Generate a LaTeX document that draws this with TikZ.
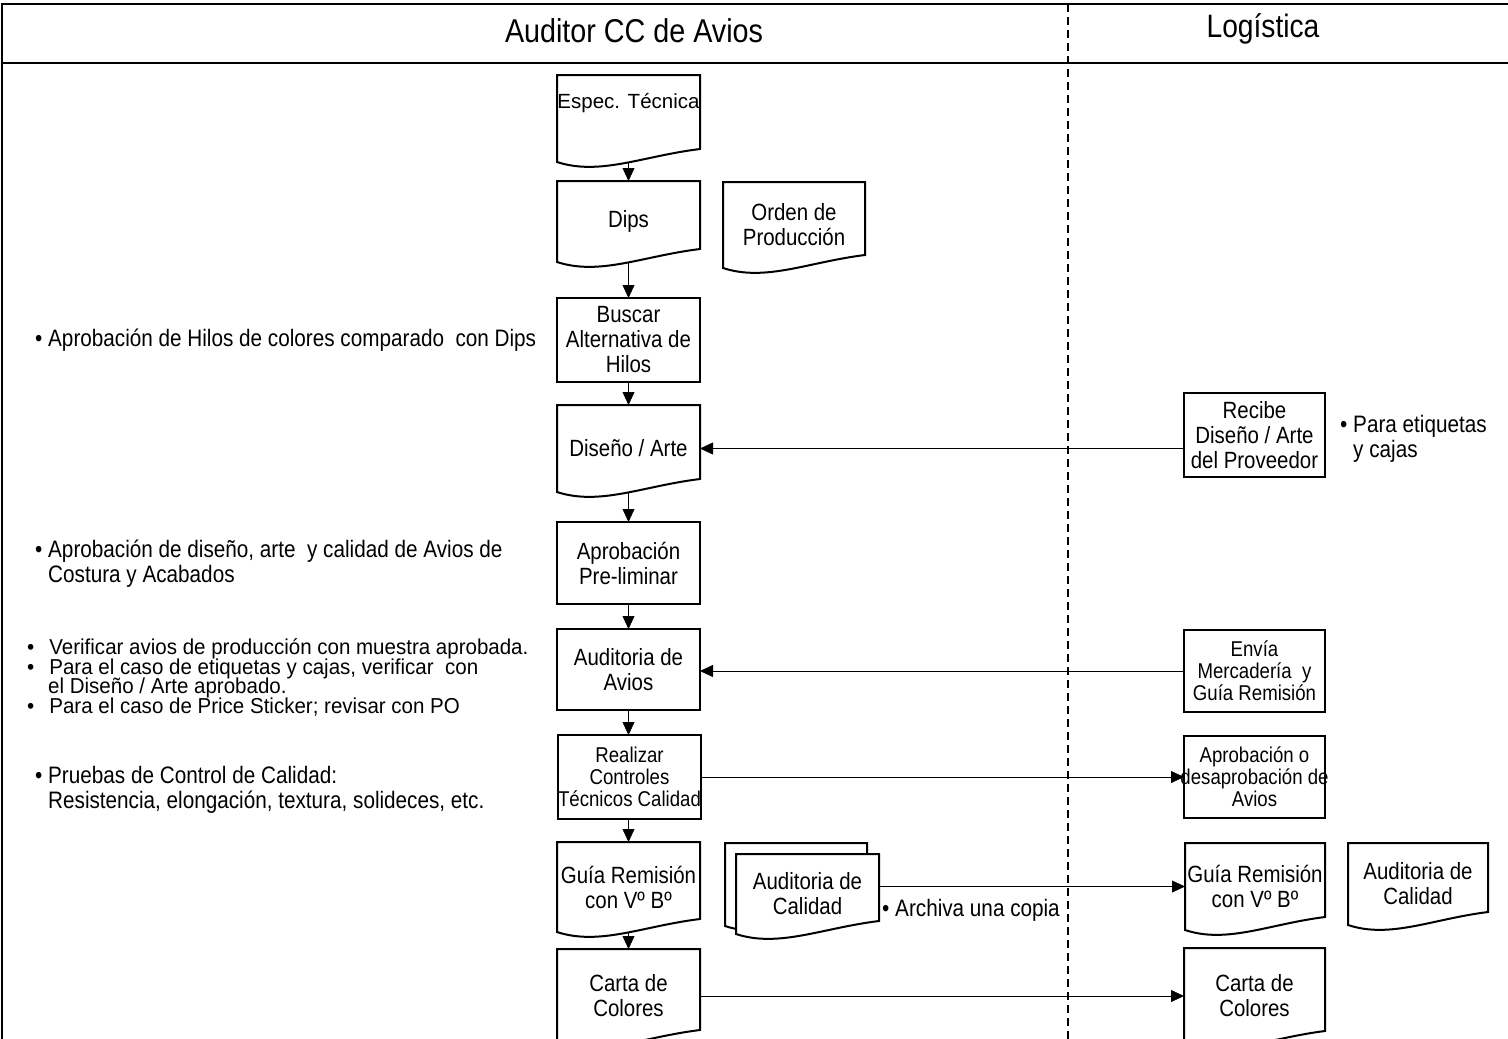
\documentclass[tikz,border=0pt]{standalone}
\usepackage{fontspec}
\setmainfont{Liberation Sans}[FakeStretch=0.87]
\newfontfamily\plainsans{Liberation Sans}
\newfontfamily\semisans{Liberation Sans}[FakeStretch=0.95]
\usetikzlibrary{arrows.meta,calc}

\pgfdeclarelayer{bg}
\pgfsetlayers{bg,main}

% outline of a document symbol around a named node: flat top, wavy bottom
\newcommand\docoutline[1]{%
  \draw[line width=2pt, fill=white] (#1.south west) -- (#1.north west) -- (#1.north east)
    -- ($(#1.south east)+(0,-13)$)
    .. controls ($(#1.south west)!0.6!(#1.south east)+(0,-6)$)
            and ($(#1.south west)!0.3!(#1.south east)+(0,14)$) .. (#1.south west) -- cycle;}

\begin{document}
\begin{tikzpicture}[x=1pt,y=-1pt,line width=2pt,line join=miter,
  txt/.style={font=\fontsize{23.5}{25}\selectfont, align=center, inner sep=0pt, outer sep=0pt},
  small/.style={font=\fontsize{21.4}{22}\selectfont},
  procbox/.style={txt, draw, minimum width=143pt, anchor=north},
  docbox/.style={txt, minimum width=143pt, anchor=north},
  flow/.style={-{Triangle[length=13pt,width=12pt]}},
  note/.style={font=\fontsize{23.8}{25}\selectfont, align=left, anchor=west, inner sep=0pt},
  lane/.style={font=\fontsize{33}{36}\selectfont, inner sep=0pt},
]
\useasboundingbox (0,0) rectangle (1508,1039);

% swimlane frame
\draw[line width=2.2pt] (2,1039) -- (2,4) -- (1508,4);
\draw[line width=2.2pt] (2,63) -- (1508,63);
\draw[line width=1.3pt, dash pattern=on 8pt off 5pt] (1068,4) -- (1068,1039);
\node[lane] (laneA) at (634,31) {Auditor CC de Avios};
\node[lane, font=\fontsize{32.4}{36}\selectfont] (laneB) at (1263,29) {Logística};

% main column
\node[docbox, font=\plainsans\fontsize{20.5}{25}\selectfont, minimum height=87pt, text height=15pt, text depth=36pt] (espec) at (628.5,75) {Espec. Técnica};
\node[docbox, minimum height=81pt] (dips) at (628.5,181) {Dips};
\node[docbox, minimum width=142pt, minimum height=86pt] (orden) at (794,182) {Orden de\\Producción};
\node[procbox, minimum height=84pt] (buscar) at (628.5,298) {Buscar\\Alternativa de\\Hilos};
\node[docbox, minimum height=87pt] (diseno) at (628.5,405) {Diseño / Arte};
\node[procbox, minimum height=82pt] (aprob) at (628.5,522) {Aprobación\\Pre-liminar};
\node[procbox, minimum height=81pt] (audit) at (628.5,629) {Auditoria de\\Avios};
\node[procbox, small, minimum height=84pt] (realizar) at (629.5,735) {Realizar\\Controles\\Técnicos Calidad};
\node[docbox, minimum height=90pt] (guia) at (628.5,842) {Guía Remisión\\con Vº Bº};
\node[docbox, minimum height=94pt] (carta) at (628.5,949) {Carta de\\Colores};

% stacked quality audit documents
\node[docbox, minimum width=142pt, minimum height=83pt] (auditqback) at (796,843) {};
\node[docbox, minimum height=80pt] (auditq) at (807.5,854) {Auditoria de\\Calidad};

% logistics column
\node[procbox, minimum width=141pt, minimum height=84pt] (recibe) at (1254.5,393) {Recibe\\Diseño / Arte\\del Proveedor};
\node[procbox, small, minimum width=141pt, minimum height=82pt] (envia) at (1254.5,630) {Envía\\Mercadería\ \ y\\Guía Remisión};
\node[procbox, small, minimum width=141pt, minimum height=82pt] (aprobo) at (1254.5,736) {Aprobación o\\\makebox[141pt]{desaprobación de}\\Avios};
\node[docbox, minimum width=140pt, minimum height=87pt] (guiaR) at (1255,843) {Guía Remisión\\con Vº Bº};
\node[docbox, minimum width=140pt, minimum height=82pt] (auditR) at (1418,843) {Auditoria de\\Calidad};
\node[docbox, minimum width=141pt, minimum height=96pt] (cartaR) at (1254.5,948) {Carta de\\Colores};

% document outlines drawn beneath the labels
\begin{pgfonlayer}{bg}
  \foreach \d in {espec,dips,orden,diseno,guia,carta,auditqback,auditq,guiaR,auditR,cartaR}{\docoutline{\d}}
\end{pgfonlayer}

% notes
\node[note] (n1) at (35,340) {• Aprobación de Hilos de colores comparado\ \ con Dips};
\node[note] (n2) at (35,563.5) {• Aprobación de diseño, arte\ \ y calidad de Avios de\\\phantom{• }Costura y Acabados};
\node[note, font={\semisans\fontsize{21.6}{19.8}\selectfont\lineskiplimit=-30pt}] (n3) at (27,677.5) {•\hspace{15pt}Verificar avios de producción con muestra aprobada.\\•\hspace{15pt}Para el caso de etiquetas y cajas, verificar\ \ con\\\hspace{21pt}el Diseño / Arte aprobado.\\•\hspace{15pt}Para el caso de Price Sticker; revisar con PO};
\node[note] (n4) at (35,789.5) {• Pruebas de Control de Calidad:\\\phantom{• }Resistencia, elongación, textura, solideces, etc.};
\node[note] (n5) at (1340,438.5) {• Para etiquetas\\\phantom{• }y cajas};
\node[note] (n6) at (882,910) {• Archiva una copia};

% flow
\draw[flow] (espec.south) -- (dips.north);
\draw[flow] (dips.south) -- (buscar.north);
\draw[flow] (buscar.south) -- (diseno.north);
\draw[flow] (diseno.south) -- (aprob.north);
\draw[flow] (aprob.south) -- (audit.north);
\draw[flow] (audit.south) -- (realizar.north -| audit.south);
\draw[flow] (realizar.south -| guia.north) -- (guia.north);
\draw[flow] (guia.south) -- (carta.north);
\draw[flow] (recibe.west |- diseno.east) -- (diseno.east);
\draw[flow] (envia.west) -- (envia.west -| audit.east);
\draw[flow] (realizar.east) -- (aprobo.west);
\draw[flow] (auditq.east |- guiaR.west) -- (guiaR.west);
\draw[flow] (carta.east) -- (cartaR.west);
\end{tikzpicture}
\end{document}
